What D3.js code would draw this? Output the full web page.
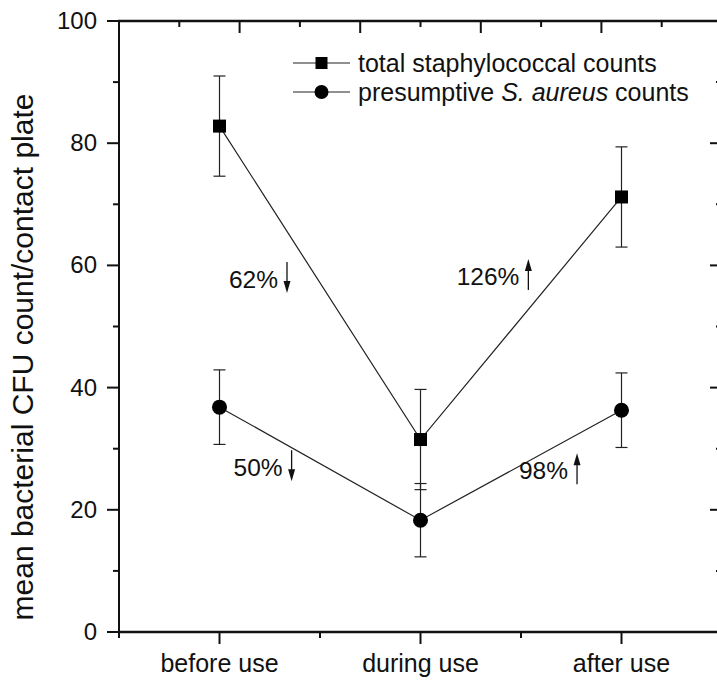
<!DOCTYPE html>
<html>
<head>
<meta charset="utf-8">
<script src="https://cdn.jsdelivr.net/npm/d3@7"></script>
<style>
  body { margin: 0; background: #fff; }
  svg text { font-family: "Liberation Sans", Arial, sans-serif; fill: #111; }
</style>
</head>
<body>
<svg id="chart"></svg>
<script>
const categories = ['before use', 'during use', 'after use'];
const totalCounts = [82.8, 31.5, 71.2];
const totalErr = [8.2, 8.2, 8.2];
const aureusCounts = [36.8, 18.3, 36.3];
const aureusErr = [6.1, 6.0, 6.1];
const yTicks = [0, 20, 40, 60, 80, 100];
const changeLabels = ['62%', '126%', '50%', '98%'];
const changeDir = ['down', 'up', 'down', 'up'];
// anchor of each label: x in category units, y in count units
const changeX = [0.047, 1.18, 0.07, 1.49];
const changeY = [56.3, 56.8, 25.5, 25.0];

const width = 717;
const height = 686;
const plotL = 119, plotR = 722, plotT = 21, plotB = 632;

const svg = d3.select('#chart')
  .attr('width', width)
  .attr('height', height);

const x = d3.scaleLinear().domain([-0.5, 2.5]).range([plotL, plotR]);
const y = d3.scaleLinear().domain([0, 100]).range([plotB, plotT]);
const xTop = d3.scaleLinear().domain([0, 5]).range([plotL, plotR]);

// axes
const axisColor = '#111';
function tickLines(g, data, fn) {
  g.selectAll(null).data(data).enter().append('line')
    .attr('stroke', axisColor).attr('stroke-width', 2)
    .each(fn);
}

// left axis
const gl = svg.append('g');
gl.append('line').attr('x1', plotL).attr('x2', plotL).attr('y1', plotT).attr('y2', plotB + 1)
  .attr('stroke', axisColor).attr('stroke-width', 2);
tickLines(gl, d3.range(0, 101, 10), function(d) {
  const len = d % 20 === 0 ? 12 : 6;
  d3.select(this).attr('x1', plotL - len).attr('x2', plotL).attr('y1', y(d)).attr('y2', y(d));
});
gl.selectAll('text').data(yTicks).enter().append('text')
  .attr('x', plotL - 22).attr('y', d => y(d) + 8)
  .attr('text-anchor', 'end').attr('font-size', 24)
  .text(d => d);

// right axis (ticks inward)
const gr = svg.append('g');
gr.append('line').attr('x1', plotR).attr('x2', plotR).attr('y1', plotT).attr('y2', plotB)
  .attr('stroke', axisColor).attr('stroke-width', 2);
tickLines(gr, d3.range(0, 101, 10), function(d) {
  const len = d % 20 === 0 ? 12 : 6;
  d3.select(this).attr('x1', plotR - len).attr('x2', plotR).attr('y1', y(d)).attr('y2', y(d));
});

// top axis (ticks inward)
const gt = svg.append('g');
gt.append('line').attr('x1', plotL - 1).attr('x2', plotR).attr('y1', plotT).attr('y2', plotT)
  .attr('stroke', axisColor).attr('stroke-width', 2.5);
tickLines(gt, d3.range(0, 5.01, 0.5), function(d) {
  const len = Number.isInteger(d) ? 12 : 6;
  d3.select(this).attr('x1', xTop(d)).attr('x2', xTop(d)).attr('y1', plotT).attr('y2', plotT + len);
});

// bottom axis
const gb = svg.append('g');
gb.append('line').attr('x1', plotL - 1).attr('x2', plotR).attr('y1', plotB).attr('y2', plotB)
  .attr('stroke', axisColor).attr('stroke-width', 2.5);
tickLines(gb, d3.range(-0.5, 2.51, 0.5), function(d) {
  const major = Number.isInteger(d);
  d3.select(this).attr('x1', x(d)).attr('x2', x(d)).attr('y1', plotB).attr('y2', plotB + (major ? 12 : 6));
});
gb.selectAll('text').data(categories).enter().append('text')
  .attr('x', (d, i) => x(i)).attr('y', 672)
  .attr('text-anchor', 'middle').attr('font-size', 25)
  .text(d => d);

// y title
svg.append('text')
  .attr('transform', 'translate(33,357) rotate(-90)')
  .attr('text-anchor', 'middle').attr('font-size', 30)
  .text('mean bacterial CFU count/contact plate');

// series
const series = [
  { values: totalCounts, err: totalErr, shape: 'square' },
  { values: aureusCounts, err: aureusErr, shape: 'circle' }
];
const line = d3.line().x((d, i) => x(i)).y(d => y(d));
const capW = 6;

series.forEach(s => {
  const g = svg.append('g');
  g.append('path').datum(s.values).attr('d', line)
    .attr('fill', 'none').attr('stroke', '#222').attr('stroke-width', 1.2);
  const eb = g.selectAll('.eb').data(s.values).enter().append('g');
  eb.append('line')
    .attr('x1', (d, i) => x(i)).attr('x2', (d, i) => x(i))
    .attr('y1', (d, i) => y(d + s.err[i])).attr('y2', (d, i) => y(d - s.err[i]))
    .attr('stroke', '#222').attr('stroke-width', 1.2);
  [1, -1].forEach(sign => {
    eb.append('line')
      .attr('x1', (d, i) => x(i) - capW).attr('x2', (d, i) => x(i) + capW)
      .attr('y1', (d, i) => y(d + sign * s.err[i])).attr('y2', (d, i) => y(d + sign * s.err[i]))
      .attr('stroke', '#222').attr('stroke-width', 1.2);
  });
  if (s.shape === 'square') {
    g.selectAll('.m').data(s.values).enter().append('rect')
      .attr('x', (d, i) => x(i) - 6.5).attr('y', d => y(d) - 6.5)
      .attr('width', 13).attr('height', 13).attr('fill', '#000');
  } else {
    g.selectAll('.m').data(s.values).enter().append('circle')
      .attr('cx', (d, i) => x(i)).attr('cy', d => y(d)).attr('r', 7.5).attr('fill', '#000');
  }
});

// legend
const legend = svg.append('g');
const legRows = [
  { y: 63, shape: 'square', parts: [['total staphylococcal counts', 'normal']] },
  { y: 92, shape: 'circle', parts: [['presumptive ', 'normal'], ['S. aureus', 'italic'], [' counts', 'normal']] }
];
legRows.forEach(r => {
  legend.append('line').attr('x1', 293).attr('x2', 350).attr('y1', r.y).attr('y2', r.y)
    .attr('stroke', '#222').attr('stroke-width', 1.2);
  if (r.shape === 'square') {
    legend.append('rect').attr('x', 321.5 - 6).attr('y', r.y - 6).attr('width', 12).attr('height', 12).attr('fill', '#000');
  } else {
    legend.append('circle').attr('cx', 321.5).attr('cy', r.y).attr('r', 7).attr('fill', '#000');
  }
  const t = legend.append('text').attr('x', 358).attr('y', r.y + 9).attr('font-size', 25);
  r.parts.forEach(p => t.append('tspan').attr('font-style', p[1]).text(p[0]));
});

// change annotations with arrows
const ann = svg.append('g');
changeLabels.forEach((lab, i) => {
  const tx = x(changeX[i]);
  const ty = y(changeY[i]);
  const t = ann.append('text').attr('x', tx).attr('y', ty).attr('font-size', 24.5).text(lab);
  const w = t.node().getComputedTextLength();
  const ax = tx + w + 9;
  const y0 = ty - 26, y1 = ty + 5;
  ann.append('line').attr('x1', ax).attr('x2', ax)
    .attr('y1', changeDir[i] === 'down' ? y0 : y0 + 10)
    .attr('y2', changeDir[i] === 'down' ? y1 - 10 : y1)
    .attr('stroke', '#111').attr('stroke-width', 1.3);
  const tip = changeDir[i] === 'down' ? y1 : y0;
  const base = changeDir[i] === 'down' ? y1 - 12 : y0 + 12;
  ann.append('path')
    .attr('d', `M${ax - 3.5},${base}L${ax + 3.5},${base}L${ax},${tip}Z`)
    .attr('fill', '#111');
});
</script>
</body>
</html>
